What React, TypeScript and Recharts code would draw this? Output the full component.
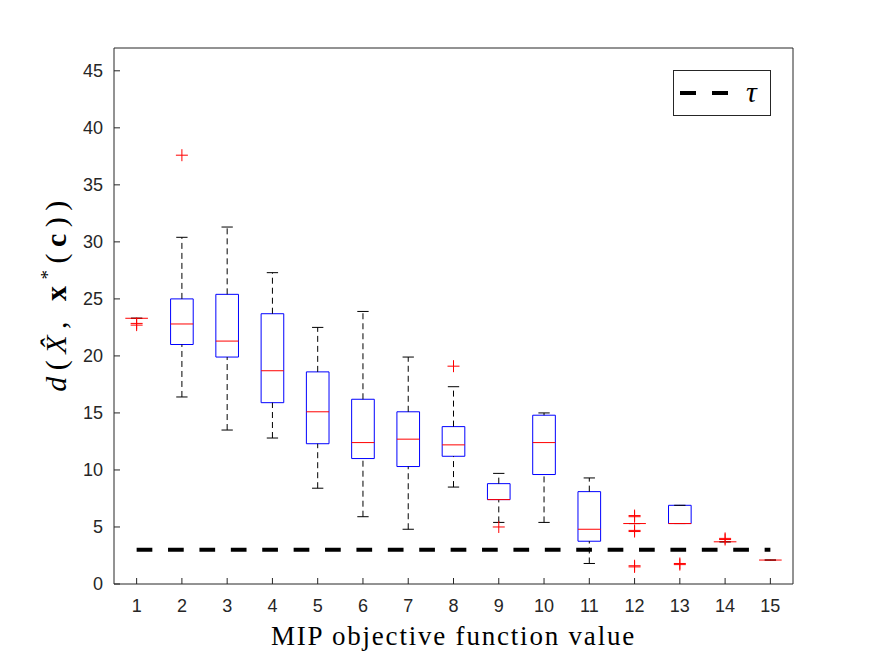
import React from "react";
import {
  ComposedChart, XAxis, YAxis, Scatter, Line, ReferenceArea, ReferenceLine, Legend
} from "recharts";

const categories = [1, 2, 3, 4, 5, 6, 7, 8, 9, 10, 11, 12, 13, 14, 15];
const whiskerLow = [23.3, 16.4, 13.5, 12.8, 8.4, 5.9, 4.8, 8.5, 5.4, 5.4, 1.8, 5.3, 5.3, 3.7, 2.1];
const q1 = [23.3, 21.0, 19.9, 15.9, 12.3, 11.0, 10.3, 11.2, 7.4, 9.6, 3.75, 5.3, 5.3, 3.7, 2.1];
const medians = [23.3, 22.8, 21.3, 18.7, 15.1, 12.4, 12.7, 12.2, 7.4, 12.4, 4.8, 5.3, 5.3, 3.7, 2.1];
const q3 = [23.3, 25.0, 25.4, 23.7, 18.6, 16.2, 15.1, 13.8, 8.8, 14.8, 8.1, 5.3, 6.9, 3.7, 2.1];
const whiskerHigh = [23.3, 30.4, 31.3, 27.3, 22.5, 23.9, 19.9, 17.3, 9.7, 15.0, 9.3, 5.3, 6.9, 3.7, 2.1];
const outliers = [
  [22.7, 22.85], [37.6], [], [], [], [], [], [19.1], [5.0], [], [],
  [6.0, 5.9, 4.7, 4.6, 1.6, 1.5], [1.8, 1.7], [4.0, 3.9], [],
];
const yTicks = [0, 5, 10, 15, 20, 25, 30, 35, 40, 45];
const tau = 3;

const outlierData = categories.flatMap((c, i) => outliers[i].map((v) => ({ x: c, y: v })));
const tauData = [
  { x: categories[0], tau },
  { x: categories[categories.length - 1], tau },
];

const axisColor = "#262626";
const tickFont = { fill: axisColor, fontSize: 18, fontFamily: "Liberation Sans, Arial, sans-serif" };

const PlusMark = (props: any) => {
  const { cx, cy } = props;
  if (cx == null || cy == null) return null;
  return (
    <g stroke="#ff0000" strokeWidth={1}>
      <line x1={cx - 6} y1={cy} x2={cx + 6} y2={cy} />
      <line x1={cx} y1={cy - 6} x2={cx} y2={cy + 6} />
    </g>
  );
};

const XLabel = (props: any) => {
  const { x, y, width, height } = props.viewBox;
  return (
    <text x={x + width / 2} y={y + height + 31} textAnchor="middle"
      fontFamily="Liberation Serif, serif" fontSize={27} letterSpacing={1.8} fill="#000">
      MIP objective function value
    </text>
  );
};

const YLabel = (props: any) => {
  const { y, height } = props.viewBox;
  const cx = 66;
  const cy = y + height / 2 - 23;
  return (
    <text x={cx} y={cy} transform={`rotate(-90, ${cx}, ${cy})`} textAnchor="middle"
      fontFamily="Liberation Serif, serif" fontSize={30} letterSpacing={6.5} fill="#000">
      <tspan fontStyle="italic">d</tspan>
      <tspan>(</tspan>
      <tspan fontStyle="italic">X̂</tspan>
      <tspan>, </tspan>
      <tspan fontWeight="bold">x</tspan>
      <tspan dy={-12} fontSize={19}>*</tspan>
      <tspan dy={12}>(</tspan>
      <tspan fontWeight="bold">c</tspan>
      <tspan>))</tspan>
    </text>
  );
};

const TauLegend = () => (
  <div style={{ width: 98, height: 46, border: `1px solid ${axisColor}`, background: "#fff", boxSizing: "border-box" }}>
    <svg width={96} height={44}>
      <line x1={6} y1={22} x2={54} y2={22} stroke="#000" strokeWidth={4} strokeDasharray="16 16" />
      <text x={72} y={31} fontFamily="Liberation Serif, serif" fontStyle="italic" fontSize={30} fill="#000">τ</text>
    </svg>
  </div>
);

export default function App() {
  return (
    <div style={{ position: "absolute", left: 0, top: 0, background: "#fff" }}>
      <ComposedChart width={875} height={657} margin={{ top: 47, right: 81, bottom: 43, left: 64 }}>
        <XAxis xAxisId={0} type="number" dataKey="x" domain={[0.5, 15.5]} ticks={categories} interval={0}
          height={30} stroke={axisColor} tickSize={-6} tickMargin={21} tick={tickFont}
          label={{ content: (p: any) => <XLabel {...p} /> }} />
        <XAxis xAxisId="top" orientation="top" type="number" dataKey="x" domain={[0.5, 15.5]} ticks={categories}
          interval={0} height={1} stroke={axisColor} tickSize={-6} tickFormatter={() => ""} />
        <YAxis yAxisId={0} type="number" domain={[0, 47]} ticks={yTicks} interval={0} width={50}
          stroke={axisColor} tickSize={-6} tickMargin={17} tick={tickFont}
          label={{ content: (p: any) => <YLabel {...p} /> }} />
        <YAxis yAxisId="right" orientation="right" type="number" domain={[0, 47]} ticks={yTicks} interval={0}
          width={1} stroke={axisColor} tickSize={-6} tickFormatter={() => ""} />

        {categories.map((c, i) => (
          <React.Fragment key={c}>
            <ReferenceLine segment={[{ x: c, y: q3[i] }, { x: c, y: whiskerHigh[i] }]}
              stroke="#000" strokeDasharray="6 4" />
            <ReferenceLine segment={[{ x: c, y: whiskerLow[i] }, { x: c, y: q1[i] }]}
              stroke="#000" strokeDasharray="6 4" />
            <ReferenceLine segment={[{ x: c - 0.125, y: whiskerHigh[i] }, { x: c + 0.125, y: whiskerHigh[i] }]}
              stroke="#000" />
            <ReferenceLine segment={[{ x: c - 0.125, y: whiskerLow[i] }, { x: c + 0.125, y: whiskerLow[i] }]}
              stroke="#000" />
            <ReferenceArea x1={c - 0.25} x2={c + 0.25} y1={q1[i]} y2={q3[i]}
              stroke="#0000ff" strokeWidth={1} fill="none" fillOpacity={0} />
            <ReferenceLine segment={[{ x: c - 0.25, y: medians[i] }, { x: c + 0.25, y: medians[i] }]}
              stroke="#ff0000" />
          </React.Fragment>
        ))}

        <Scatter data={outlierData} dataKey="y" shape={<PlusMark />} isAnimationActive={false} />
        <Line data={tauData} dataKey="tau" type="linear" stroke="#000" strokeWidth={4}
          strokeDasharray="15.7 15.7" dot={false} activeDot={false} isAnimationActive={false} />

        <Legend layout="horizontal" align="center" verticalAlign="middle" content={() => <TauLegend />}
          wrapperStyle={{ left: 673, top: 70, width: 98, height: 46 }} />
      </ComposedChart>
    </div>
  );
}
